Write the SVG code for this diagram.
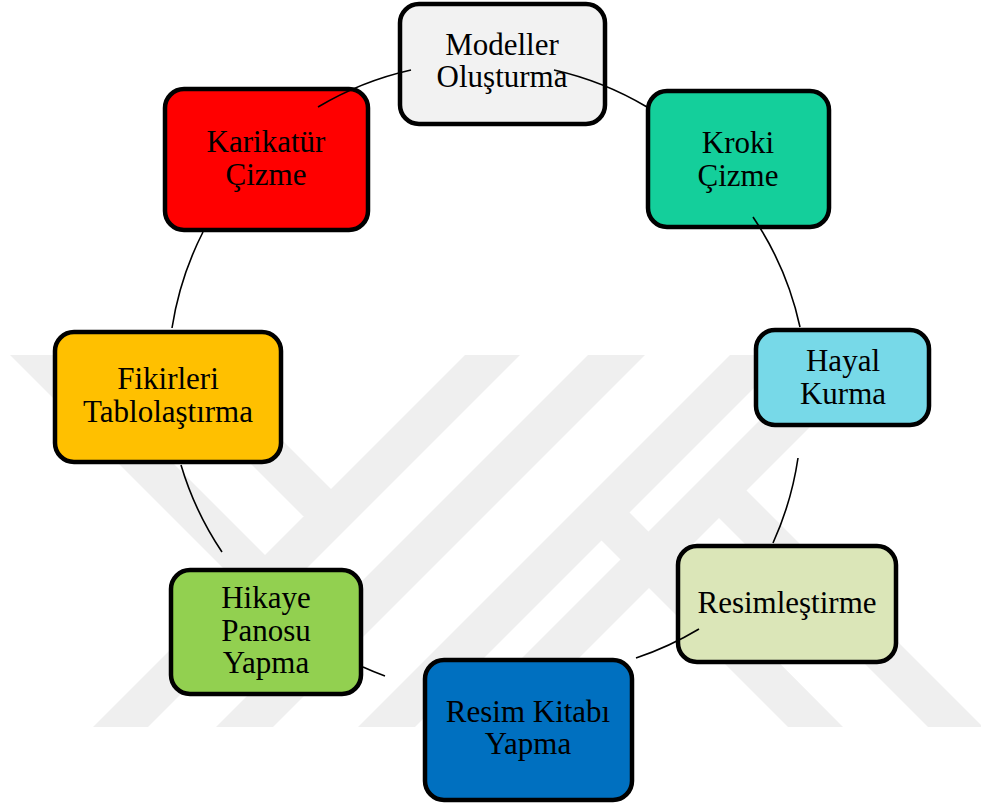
<svg xmlns="http://www.w3.org/2000/svg" width="981" height="807" viewBox="0 0 981 807">
  <style>
    .box { stroke: #000; stroke-width: 4.5; }
    .lbl { font-family: "Liberation Serif", "Times New Roman", serif; font-size: 31px; fill: #000; text-anchor: middle; }
    .arc { fill: none; stroke: #000; stroke-width: 1.6; }
    .wm { fill: #efefef; }
  </style>
  <rect width="981" height="807" fill="#ffffff"/>

  <!-- faint background emblem made of slanted bands -->
  <g id="watermark">
    <polygon class="wm" points="10,355 65,355 355,645 299,644"/>
    <polygon class="wm" points="142,355 197,355 358,516 303,516"/>
    <polygon class="wm" points="465,355 520,355 148,727 93,727"/>
    <polygon class="wm" points="588,355 645,355 273,727 216,727"/>
    <polygon class="wm" points="730,355 787,355 415,727 358,727"/>
    <polygon class="wm" points="825,355 882,355 510,727 453,727"/>
    <polygon class="wm" points="573,512 629,512 843,727 788,727"/>
    <polygon class="wm" points="691,490 746,490 983,727 928,727"/>
  </g>

  <!-- cycle steps -->
  <g id="node-modeller">
    <rect class="box" x="400" y="4" width="205" height="120" rx="19" fill="#f2f2f2"/>
    <text class="lbl" x="502" y="55">Modeller</text>
    <text class="lbl" x="502" y="87">Oluşturma</text>
  </g>
  <g id="node-kroki">
    <rect class="box" x="648" y="91" width="181" height="136" rx="19" fill="#14cf9b"/>
    <text class="lbl" x="738" y="153">Kroki</text>
    <text class="lbl" x="738" y="186">Çizme</text>
  </g>
  <g id="node-hayal">
    <rect class="box" x="756" y="330" width="173" height="95" rx="19" fill="#77d9e8"/>
    <text class="lbl" x="843" y="371">Hayal</text>
    <text class="lbl" x="843" y="404">Kurma</text>
  </g>
  <g id="node-resimlestirme">
    <rect class="box" x="678" y="546" width="218" height="116" rx="19" fill="#dbe6b8"/>
    <text class="lbl" x="787" y="613">Resimleştirme</text>
  </g>
  <g id="node-resim-kitabi">
    <rect class="box" x="425" y="660" width="207" height="140" rx="19" fill="#0070c0"/>
    <text class="lbl" x="528" y="722">Resim Kitabı</text>
    <text class="lbl" x="528" y="754">Yapma</text>
  </g>
  <g id="node-hikaye">
    <rect class="box" x="171" y="570" width="190" height="124" rx="19" fill="#92d050"/>
    <text class="lbl" x="266" y="608">Hikaye</text>
    <text class="lbl" x="266" y="641">Panosu</text>
    <text class="lbl" x="266" y="673">Yapma</text>
  </g>
  <g id="node-fikirleri">
    <rect class="box" x="55" y="332" width="226" height="130" rx="19" fill="#ffc000"/>
    <text class="lbl" x="168" y="389">Fikirleri</text>
    <text class="lbl" x="168" y="422">Tablolaştırma</text>
  </g>
  <g id="node-karikatur">
    <rect class="box" x="165" y="89" width="203" height="141" rx="19" fill="#ff0000"/>
    <text class="lbl" x="266" y="152">Karikatür</text>
    <text class="lbl" x="266" y="185">Çizme</text>
  </g>

  <!-- arcs of the cycle ring -->
  <g id="connectors">
    <path class="arc" d="M318,107 A318,318 0 0 1 411,70"/>
    <path class="arc" d="M554,70 A318,318 0 0 1 647,107"/>
    <path class="arc" d="M753,217 A318,318 0 0 1 800,327"/>
    <path class="arc" d="M798,458 A318,318 0 0 1 773,543"/>
    <path class="arc" d="M699,629 A318,318 0 0 1 636,658"/>
    <path class="arc" d="M385,676 A318,318 0 0 1 363,667"/>
    <path class="arc" d="M222,552 A318,318 0 0 1 181,465"/>
    <path class="arc" d="M172,328 A318,318 0 0 1 203,232"/>
  </g>
</svg>
